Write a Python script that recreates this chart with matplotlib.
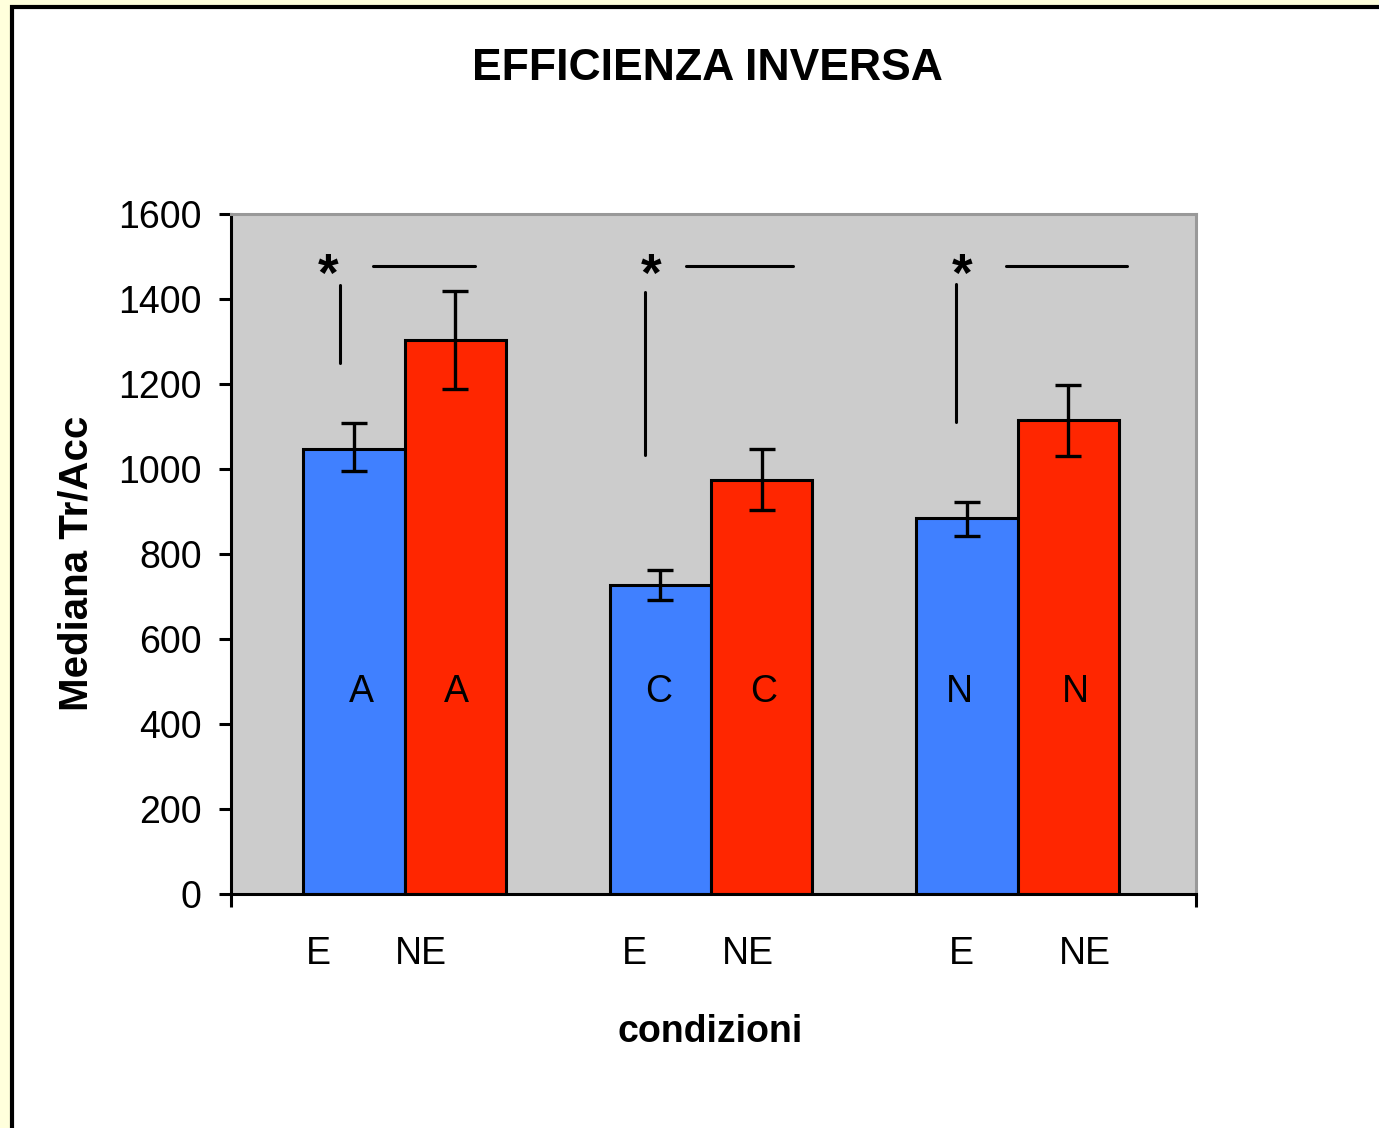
import matplotlib.pyplot as plt
from matplotlib.patches import Rectangle
import numpy as np

# data
groups = ["A", "C", "N"]
conditions = ["E", "NE"]
e_values = [1047, 727, 885]
ne_values = [1304, 974, 1115]
e_err_hi = [1108, 762, 922]
e_err_lo = [995, 692, 842]
ne_err_hi = [1419, 1047, 1198]
ne_err_lo = [1188, 904, 1031]
y_ticks = [0, 200, 400, 600, 800, 1000, 1200, 1400, 1600]

# layout bits (offsets from each group centre, in group units)
bar_w = 0.33
cond_label_x = [[-0.282, 0.054], [-0.25, 0.119], [-0.184, 0.22]]
in_bar_x = [[-0.14, 0.17], [-0.17, 0.17], [-0.19, 0.19]]
star_x = [-0.25, -0.194, -0.181]
vline_x = [-0.21, -0.214, -0.201]
vline_y = [(1249, 1433), (1033, 1416), (1111, 1435)]
hline_x = [(-0.103, 0.23), (-0.083, 0.268), (-0.037, 0.357)]
hline_y = 1478

blue = "#4080FF"
red = "#FF2600"
plt.rcParams["font.family"] = ["Liberation Sans", "DejaVu Sans"]

fig = plt.figure(figsize=(13.79, 11.28), dpi=100)
fig.patch.set_facecolor("#FFFFDC")
# white panel with black border
panel = Rectangle((11.5 / 1379, -0.05), 1.1, 1 - 7 / 1128 + 0.05,
                  transform=fig.transFigure, facecolor="white",
                  edgecolor="black", linewidth=3, zorder=-5)
fig.patches.append(panel)

ax = fig.add_axes([231 / 1379, 1 - 894 / 1128, 965 / 1379, 680 / 1128])
ax.set_zorder(2)
ax.set_facecolor("#CCCCCC")

x = np.arange(len(groups))
e_x = x - bar_w / 2
ne_x = x + bar_w / 2
e_val = np.array(e_values)
ne_val = np.array(ne_values)

ax.bar(e_x, e_val, width=bar_w, color=blue, edgecolor="black", linewidth=2.2, zorder=2)
ax.bar(ne_x, ne_val, width=bar_w, color=red, edgecolor="black", linewidth=2.2, zorder=2)
ax.errorbar(e_x, e_val, yerr=[e_val - np.array(e_err_lo), np.array(e_err_hi) - e_val],
            fmt="none", ecolor="black", elinewidth=2.4, capsize=9.5, capthick=2.4, zorder=3)
ax.errorbar(ne_x, ne_val, yerr=[ne_val - np.array(ne_err_lo), np.array(ne_err_hi) - ne_val],
            fmt="none", ecolor="black", elinewidth=2.4, capsize=9.5, capthick=2.4, zorder=3)

for i, g in enumerate(groups):
    # letters inside bars
    for dx in in_bar_x[i]:
        ax.text(x[i] + dx, 476, g, ha="center", va="center", fontsize=27, zorder=4)
    # condition labels under the axis
    for dx, c in zip(cond_label_x[i], conditions):
        ax.text(x[i] + dx, -142, c, ha="center", va="center", fontsize=27, clip_on=False)
    # significance marks
    ax.text(x[i] + star_x[i], 1452, "*", ha="center", va="center", fontsize=38,
            fontweight="bold", zorder=4)
    ax.plot([x[i] + vline_x[i]] * 2, vline_y[i], color="black", lw=2.2,
            solid_capstyle="round", zorder=4)
    ax.plot([x[i] + hline_x[i][0], x[i] + hline_x[i][1]], [hline_y] * 2,
            color="black", lw=2.2, solid_capstyle="round", zorder=4)

ax.set_xlim(-0.566, 2.582)
ax.set_ylim(0, 1600)
ax.set_yticks(y_ticks)
ax.set_yticklabels([str(v) for v in y_ticks], fontsize=27)
ax.set_xticks([-0.566, 2.582])
ax.set_xticklabels(["", ""])
ax.tick_params(axis="y", length=9, width=2.2, pad=12, direction="out")
ax.tick_params(axis="x", length=9, width=2.2, direction="out")

for s in ["left", "bottom"]:
    ax.spines[s].set_color("black")
    ax.spines[s].set_linewidth(2.2)
for s in ["top", "right"]:
    ax.spines[s].set_color("#999999")
    ax.spines[s].set_linewidth(2.2)

fig.text(707 / 1379, 1 - 68 / 1128, "EFFICIENZA INVERSA", ha="center", va="center",
         fontsize=32, fontweight="bold")
fig.text(710 / 1379, 1 - 1032 / 1128, "condizioni", ha="center", va="center",
         fontsize=27, fontweight="bold")
fig.text(77 / 1379, 1 - 563 / 1128, "Mediana Tr/Acc", ha="center", va="center",
         rotation=90, fontsize=29, fontweight="bold")

fig.savefig("out.png", dpi=100, facecolor=fig.get_facecolor())
